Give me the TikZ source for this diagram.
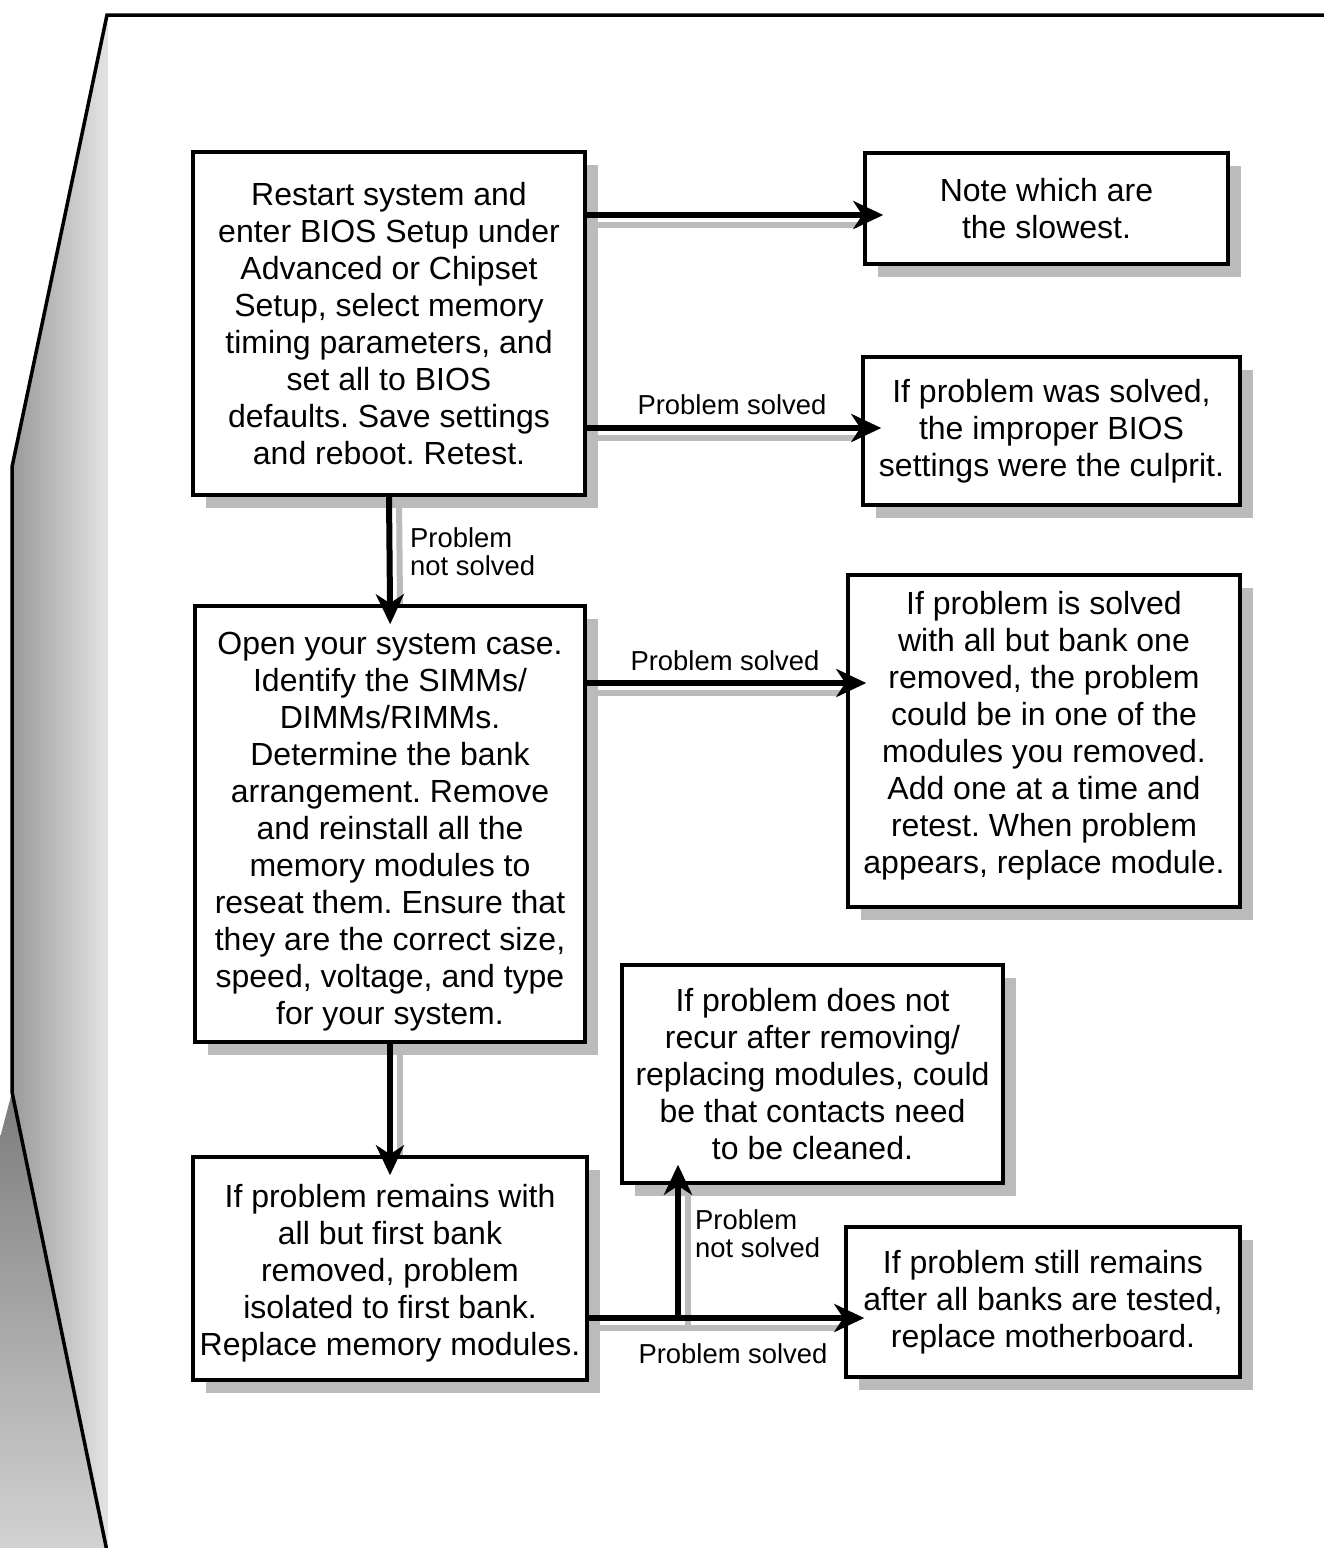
\documentclass[tikz,border=0pt]{standalone}
\usepackage{fontspec}
\setmainfont{Liberation Sans}
\usetikzlibrary{arrows.meta,calc,shadows,backgrounds}
\definecolor{shadowgray}{HTML}{BBBBBB}
\definecolor{pagedark}{HTML}{9A9A9A}
\definecolor{pagelight}{HTML}{E4E4E4}
\definecolor{cornerdark}{HTML}{7C7C7C}
\definecolor{cornerlight}{HTML}{D2D2D2}
\newcommand{\tallfirst}[1]{\rule{0pt}{#1}}
\newcommand{\deeplast}[1]{\rule[-#1]{0pt}{1pt}}
\frenchspacing

\begin{document}
\begin{tikzpicture}[x=1pt,y=-1pt,
  box/.style={draw=black, fill=white, line width=3.5pt, inner sep=0pt, align=center,
    font=\fontsize{32}{37}\selectfont\frenchspacing, text=black,
    drop shadow={shadow xshift=13pt, shadow yshift=-13pt, fill=shadowgray, draw=none, opacity=1}},
  flow/.style={line width=6pt, -{Stealth[length=30pt,width=28pt,inset=9pt]}, shorten >=-20pt},
  shadeline/.style={draw=shadowgray, line width=6pt},
  lbl/.style={font=\fontsize{27.4}{28}\selectfont, inner sep=0pt, text=black, align=left}
]
\useasboundingbox (0,0) rectangle (1324,1548);

% page background
\begin{scope}[on background layer]
  \fill[white] (0,0) rectangle (1324,1548);
  \shade[left color=pagedark, right color=pagelight]
    (107,15) -- (12,467) -- (12,1092) -- (108,1548) -- (108,15) -- cycle;
  \shade[top color=cornerdark, bottom color=cornerlight]
    (12,1092) -- (0,1138) -- (0,1548) -- (108,1548) -- cycle;
  \draw[line width=3.5pt, line join=miter] (1330,15) -- (107,15) -- (12,467) -- (12,1092) -- (108,1556);
\end{scope}

% boxes
\node[box, minimum width=392pt, minimum height=343pt] (b1) at (389,323.5)
  {Restart system and\\enter BIOS Setup under\\Advanced or Chipset\\Setup, select memory\\timing parameters, and\\set all to BIOS\\defaults. Save settings\\and reboot. Retest.};
\node[box, minimum width=363pt, minimum height=111pt] (b2) at (1046.5,208.5)
  {Note which are\\the slowest.};
\node[box, minimum width=377pt, minimum height=148pt] (b3) at (1051.5,431)
  {If problem was solved,\\the improper BIOS\\settings were the culprit.};
\node[box, minimum width=390pt, minimum height=436pt] (b4) at (390,824)
  {\tallfirst{38pt}Open your system case.\\Identify the SIMMs/\\DIMMs/RIMMs.\\Determine the bank\\arrangement. Remove\\and reinstall all the\\memory modules to\\reseat them. Ensure that\\they are the correct size,\\speed, voltage, and type\\for your system.};
\node[box, minimum width=392pt, minimum height=332pt] (b5) at (1044,741)
  {If problem is solved\\with all but bank one\\removed, the problem\\could be in one of the\\modules you removed.\\Add one at a time and\\retest. When problem\\appears, replace module.\deeplast{17pt}};
\node[box, minimum width=381pt, minimum height=218pt] (b6) at (812.5,1074)
  {If problem does not\\recur after removing/\\replacing modules, could\\be that contacts need\\to be cleaned.};
\node[box, minimum width=394pt, minimum height=223pt] (b7) at (390,1268.5)
  {\tallfirst{33.5pt}If problem remains with\\all but first bank\\removed, problem\\isolated to first bank.\\Replace memory modules.};
\node[box, minimum width=394pt, minimum height=150pt] (b8) at (1043,1302)
  {If problem still remains\\after all banks are tested,\\replace motherboard.};

\coordinate (j) at (678,1318);

% arrow shadows
\begin{scope}[on background layer]
  \draw[shadeline] ($(b1.east |- 0,215)+(0,10)$) -- ($(b2.west |- 0,215)+(-6,10)$);
  \draw[shadeline] ($(b1.east |- 0,428)+(0,10)$) -- ($(b3.west |- 0,428)+(-6,10)$);
  \draw[shadeline] ($(b4.east |- 0,683)+(0,10)$) -- ($(b5.west |- 0,683)+(-6,10)$);
  \draw[shadeline] ($(b7.east |- j)+(0,10)$) -- ($(b8.west |- j)+(-6,10)$);
  \draw[shadeline] ($(b1.south)+(10,0)$) -- ($(b4.north)+(10,0)$);
  \draw[shadeline] ($(b4.south)+(10,0)$) -- ($(b7.north)+(10,0)$);
  \draw[shadeline] ($(j)+(10,10)$) -- ($(b6.south -| j)+(10,0)$);
\end{scope}

% connectors
\draw[flow] (b1.east |- 0,215) -- (b2.west |- 0,215);
\draw[flow] (b1.east |- 0,428) -- (b3.west |- 0,428);
\draw[flow] (b1.south) -- (b4.north);
\draw[flow] (b4.east |- 0,683) -- (b5.west |- 0,683);
\draw[flow] (b4.south) -- (b7.north);
\draw[flow] (b7.east |- j) -- (b8.west |- j);
\draw[flow] (j) -- (b6.south -| j);

% labels
\node[lbl, anchor=base] (l1) at (732,414) {Problem solved};
\node[lbl, anchor=west] (l2) at (410,552) {Problem\\not solved};
\node[lbl, anchor=base] (l3) at (725,670) {Problem solved};
\node[lbl, anchor=west] (l4) at (695,1234) {Problem\\not solved};
\node[lbl, anchor=base] (l5) at (733,1363) {Problem solved};
\end{tikzpicture}
\end{document}
